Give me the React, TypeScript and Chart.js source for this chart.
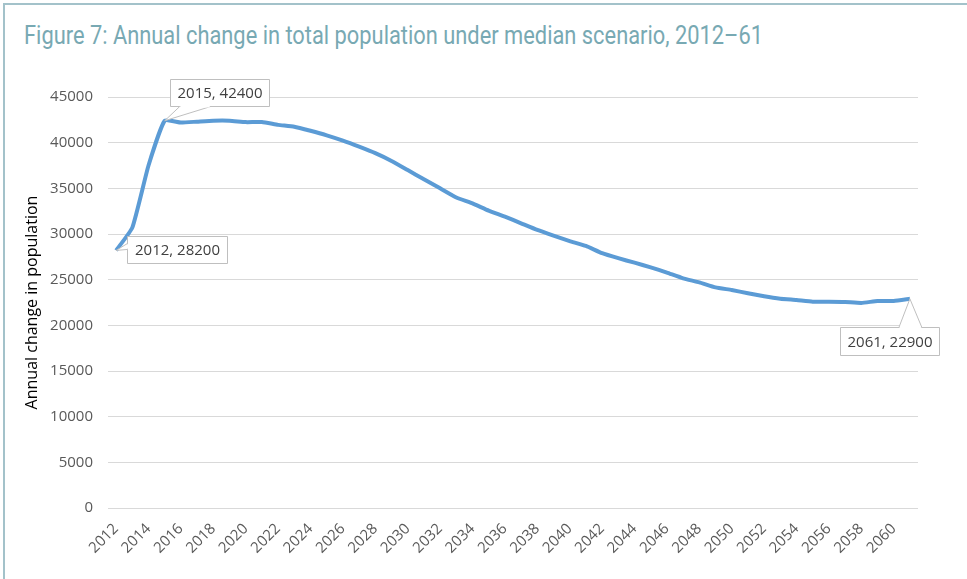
import React, { useEffect, useRef } from "react";
import { Chart, registerables } from "chart.js";

Chart.register(...registerables);

const years: string[] = [];
for (let y = 2012; y <= 2061; y++) years.push(String(y));

const populationChange: number[] = [
  28200, 30700, 37500, 42400, 42200, 42300, 42400, 42400, 42250, 42250,
  41950, 41750, 41300, 40800, 40220, 39560, 38850, 38000, 37000, 36000,
  35000, 34000, 33350, 32560, 31900, 31170, 30440, 29820, 29230, 28690,
  27900, 27350, 26860, 26350, 25770, 25150, 24710, 24160, 23870, 23510,
  23180, 22920, 22770, 22590, 22590, 22560, 22450, 22670, 22670, 22900,
];

const callouts = [
  { index: 0, text: "2012, 28200", box: [11, -14, 100, 27], wedge: ["left", -7, -1] },
  { index: 3, text: "2015, 42400", box: [5, -42, 99, 27], wedge: ["bottom", 15, 46] },
  { index: 49, text: "2061, 22900", box: [-70, 28, 99, 28], wedge: ["top", -11, 12] },
];

const FONT = "'Open Sans', 'Noto Sans', sans-serif";

const calloutPlugin = {
  id: "callouts",
  afterDatasetsDraw(chart: any) {
    const meta = chart.getDatasetMeta(0);
    const ctx = chart.ctx;
    ctx.save();
    for (const c of callouts) {
      const p = meta.data[c.index];
      if (!p) continue;
      const px = p.x, py = p.y;
      const [bx, by, bw, bh] = c.box as number[];
      const left = Math.round(px + bx) + 0.5;
      const top = Math.round(py + by) + 0.5;
      const [side, a, b] = c.wedge as [string, number, number];
      ctx.strokeStyle = "#bfbfbf";
      ctx.lineWidth = 1;
      ctx.fillStyle = "#ffffff";
      ctx.beginPath();
      ctx.rect(left, top, bw, bh);
      ctx.fill();
      ctx.stroke();
      ctx.beginPath();
      if (side === "left") {
        ctx.moveTo(left, py + a);
        ctx.lineTo(px, py);
        ctx.lineTo(left, py + b);
      } else if (side === "bottom") {
        ctx.moveTo(px + a, top + bh);
        ctx.lineTo(px, py);
        ctx.lineTo(px + b, top + bh);
      } else {
        ctx.moveTo(px + a, top);
        ctx.lineTo(px, py);
        ctx.lineTo(px + b, top);
      }
      ctx.fill();
      ctx.stroke();
      ctx.fillStyle = "#ffffff";
      if (side === "left") ctx.fillRect(left - 0.5, py + a + 1, 1.5, b - a - 2);
      else if (side === "bottom") ctx.fillRect(px + a + 1, top + bh - 0.5, b - a - 2, 1.5);
      else ctx.fillRect(px + a + 1, top - 0.5, b - a - 2, 1.5);
      ctx.fillStyle = "#404040";
      ctx.font = `15px ${FONT}`;
      ctx.textAlign = "center";
      ctx.textBaseline = "middle";
      ctx.fillText(c.text, left + bw / 2, top + bh / 2 + 1);
    }
    ctx.restore();
  },
};

export default function App() {
  const ref = useRef<HTMLCanvasElement | null>(null);
  useEffect(() => {
    if (!ref.current) return;
    const chart = new Chart(ref.current, {
      type: "line",
      data: {
        labels: years,
        datasets: [
          {
            data: populationChange,
            borderColor: "#5b9bd5",
            borderWidth: 4,
            pointRadius: 0,
            tension: 0.15,
            fill: false,
          },
        ],
      },
      plugins: [calloutPlugin],
      options: {
        responsive: false,
        animation: false,
        devicePixelRatio: 1,
        layout: { padding: { left: 0, top: 97, right: 49, bottom: 0 } },
        plugins: { legend: { display: false }, tooltip: { enabled: false }, title: { display: false } },
        scales: {
          x: {
            offset: true,
            grid: { display: false, drawTicks: false },
            border: { display: false },
            ticks: {
              autoSkip: false,
              minRotation: 45,
              maxRotation: 45,
              padding: 12,
              color: "#595959",
              font: { family: FONT, size: 15 },
              callback: (_v: any, i: number) => (i % 2 === 0 ? years[i] : ""),
            },
            afterFit: (s: any) => {
              s.height = 71;
            },
          },
          y: {
            min: 0,
            max: 45000,
            grid: { color: "#d9d9d9", lineWidth: 1, drawTicks: false },
            border: { display: false },
            ticks: {
              stepSize: 5000,
              padding: 15,
              color: "#595959",
              font: { family: FONT, size: 15 },
              callback: (v: any) => String(v),
            },
            title: {
              display: true,
              text: "Annual change in population",
              color: "#000000",
              font: { family: FONT, size: 16 },
              padding: { top: 23, bottom: 0 },
            },
            afterFit: (s: any) => {
              s.width = 108;
            },
          },
        },
      },
    });
    return () => chart.destroy();
  }, []);

  return (
    <div style={{ position: "fixed", left: 0, top: 0, width: 967, height: 579, background: "#ffffff", overflow: "hidden" }}>
      <div style={{ position: "absolute", left: 3, top: 3, width: 964, height: 2, background: "#a3c2ca" }} />
      <div style={{ position: "absolute", left: 3, top: 3, width: 2, height: 576, background: "#a3c2ca" }} />
      <svg width={967} height={60} style={{ position: "absolute", left: 0, top: 0 }}>
        <text
          x={24}
          y={44}
          fontFamily="Roboto, sans-serif"
          fontWeight={400}
          fontSize={25}
          fill="#78a9b3"
          textLength={739}
          lengthAdjust="spacingAndGlyphs"
        >
          Figure 7: Annual change in total population under median scenario, 2012–61
        </text>
      </svg>
      <canvas ref={ref} width={967} height={579} style={{ position: "absolute", left: 0, top: 0, width: 967, height: 579 }} />
    </div>
  );
}
